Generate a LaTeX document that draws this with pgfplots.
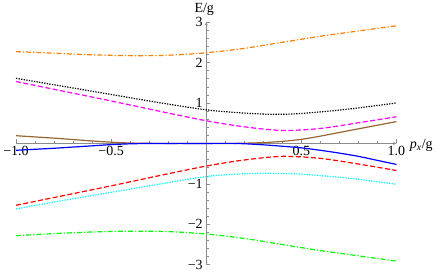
\documentclass[border=0pt]{standalone}
\usepackage{pgfplots}
\pgfplotsset{compat=1.18}
\usepackage{fontspec}
\setmainfont{Liberation Serif}
\definecolor{morange}{rgb}{1,0.5,0}
\definecolor{mbrown}{rgb}{0.6,0.4,0.2}
\definecolor{mcyan}{rgb}{0,1,1}
\definecolor{mmagenta}{rgb}{1,0,1}
\definecolor{mgreen}{rgb}{0,1,0}
\definecolor{mred}{rgb}{1,0,0}
\definecolor{mblue}{rgb}{0,0,1}
\definecolor{axgray}{rgb}{0.55,0.55,0.55}
\begin{document}
\begin{tikzpicture}
\begin{axis}[
  scale only axis, width=381pt, height=243pt,
  axis lines=middle, axis line style={axgray, line width=0.5pt},
  xmin=-1, xmax=1, ymin=-3, ymax=3,
  enlargelimits=false, clip=false,
  xtick={-1,-0.5,0.5,1}, xticklabels={−1.0,−0.5,0.5,1.0},
  minor xtick={-0.9,-0.8,-0.7,-0.6,-0.4,-0.3,-0.2,-0.1,0.1,0.2,0.3,0.4,0.6,0.7,0.8,0.9},
  ytick={-3,-2,-1,1,2,3}, yticklabels={−3,−2,−1,1,2,3},
  minor ytick={-2.8,-2.6,-2.4,-2.2,-1.8,-1.6,-1.4,-1.2,-0.8,-0.6,-0.4,-0.2,0.2,0.4,0.6,0.8,1.2,1.4,1.6,1.8,2.2,2.4,2.6,2.8},
  tick align=inside,
  major tick length=4pt, minor tick length=2.5pt,
  tick style={axgray, line width=0.5pt},
  ticklabel style={font=\fontsize{14}{16}\selectfont, text=black},
  xticklabel style={yshift=1pt},
  xlabel={\textit{p}\textsubscript{\textit{x}}/g},
  ylabel={E/g},
  xlabel style={at={(axis cs:1,0)}, anchor=west, xshift=10pt, yshift=-2pt, font=\fontsize{14}{16}\selectfont},
  ylabel style={at={(axis cs:0,3)}, anchor=south, xshift=-2pt, yshift=3pt, font=\fontsize{14}{16}\selectfont},
  every axis plot/.append style={line width=1.2pt},
]
% orange (dot-dashed)
\addplot[morange, smooth, dash pattern=on 5pt off 2pt on 1.2pt off 2pt] coordinates {
(-1,2.27) (-0.8,2.23) (-0.6,2.19) (-0.4,2.17) (-0.2,2.18) (0,2.24) (0.2,2.35) (0.4,2.50) (0.6,2.65) (0.8,2.78) (1.0,2.91)};
% black (dotted)
\addplot[black, smooth, dash pattern=on 1.3pt off 1.3pt] coordinates {
(-1,1.61) (-0.75,1.41) (-0.5,1.21) (-0.25,1.01) (0,0.83) (0.2,0.75) (0.35,0.72) (0.5,0.74) (0.75,0.85) (1.0,1.0)};
% magenta (dashed)
\addplot[mmagenta, smooth, dash pattern=on 5pt off 2.5pt] coordinates {
(-1,1.53) (-0.75,1.29) (-0.5,1.05) (-0.25,0.80) (0,0.56) (0.2,0.41) (0.4,0.32) (0.6,0.37) (0.8,0.51) (1.0,0.66)};
% brown (solid)
\addplot[mbrown, smooth] coordinates {
(-1,0.19) (-0.9,0.16) (-0.8,0.13) (-0.7,0.095) (-0.6,0.06) (-0.5,0.03) (-0.4,0.01) (-0.3,0.002) (-0.2,0) (0,0) (0.15,0) (0.2,0.005) (0.3,0.02) (0.4,0.05) (0.5,0.10) (0.6,0.18) (0.7,0.27) (0.8,0.36) (0.9,0.45) (1.0,0.54)};
% blue (solid)
\addplot[mblue, smooth] coordinates {
(-1,-0.17) (-0.9,-0.145) (-0.8,-0.12) (-0.7,-0.09) (-0.6,-0.06) (-0.5,-0.03) (-0.4,-0.01) (-0.3,-0.002) (-0.2,0) (0,0) (0.15,0) (0.2,-0.008) (0.3,-0.035) (0.4,-0.07) (0.5,-0.11) (0.6,-0.17) (0.7,-0.24) (0.8,-0.32) (0.9,-0.42) (1.0,-0.52)};
% red (dashed)
\addplot[mred, smooth, dash pattern=on 5pt off 2.5pt] coordinates {
(-1,-1.53) (-0.75,-1.29) (-0.5,-1.05) (-0.25,-0.80) (0,-0.56) (0.2,-0.41) (0.4,-0.32) (0.6,-0.37) (0.8,-0.51) (1.0,-0.67)};
% cyan (dotted)
\addplot[mcyan, smooth, dash pattern=on 1.3pt off 1.3pt] coordinates {
(-1,-1.62) (-0.75,-1.41) (-0.5,-1.21) (-0.25,-1.01) (0,-0.82) (0.2,-0.75) (0.35,-0.74) (0.5,-0.76) (0.75,-0.86) (1.0,-1.01)};
% green (dot-dashed)
\addplot[mgreen, smooth, dash pattern=on 5pt off 2pt on 1.2pt off 2pt] coordinates {
(-1,-2.28) (-0.8,-2.23) (-0.6,-2.19) (-0.4,-2.17) (-0.2,-2.18) (0,-2.24) (0.2,-2.35) (0.4,-2.50) (0.6,-2.65) (0.8,-2.78) (1.0,-2.91)};
\end{axis}
\end{tikzpicture}
\end{document}
